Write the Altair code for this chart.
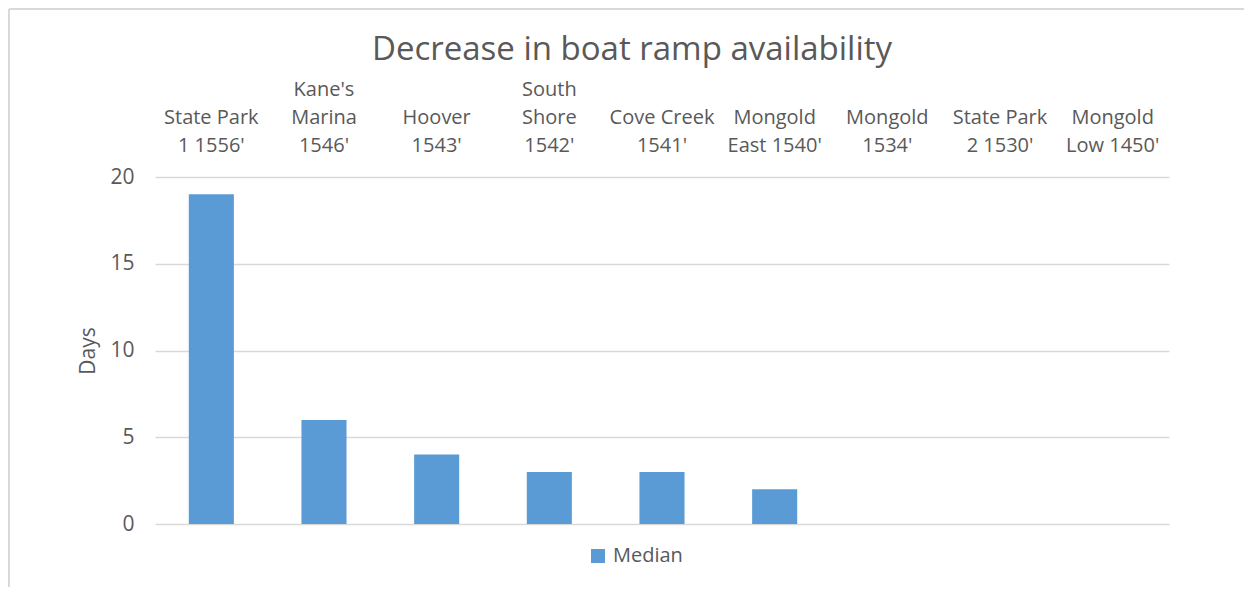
import altair as alt
import pandas as pd

categories = [
    "State Park\n1 1556'",
    "Kane's\nMarina\n1546'",
    "Hoover\n1543'",
    "South\nShore\n1542'",
    "Cove Creek\n1541'",
    "Mongold\nEast 1540'",
    "Mongold\n1534'",
    "State Park\n2 1530'",
    "Mongold\nLow 1450'",
]
median_days = [19, 6, 4, 3, 3, 2, 0, 0, 0]
series_name = "Median"
y_ticks = [0, 5, 10, 15, 20]

df = pd.DataFrame({"ramp": categories, "days": median_days, "series": series_name})

FONT = "Open Sans"
GREY = "#595959"

# pad two-line labels with an empty first line so all labels end on the same line
label_expr = (
    "split(indexof(datum.label, '\\n') == lastindexof(datum.label, '\\n') "
    "? '\\n' + datum.label : datum.label, '\\n')"
)

bars = (
    alt.Chart(df)
    .mark_bar()
    .encode(
        x=alt.X(
            "ramp:N",
            sort=None,
            scale=alt.Scale(paddingInner=0.6, paddingOuter=0.3),
            axis=alt.Axis(
                orient="top",
                title=None,
                labelAngle=0,
                domain=False,
                ticks=False,
                grid=False,
                labelExpr=label_expr,
                labelLineHeight=28,
                labelBaseline="bottom",
                labelPadding=78,
                labelFontSize=20,
                labelFont=FONT,
                labelColor=GREY,
                labelOverlap=False,
                labelLimit=300,
            ),
        ),
        y=alt.Y(
            "days:Q",
            scale=alt.Scale(domain=[0, 20], nice=False),
            axis=alt.Axis(
                values=y_ticks,
                title="Days",
                grid=True,
                gridColor="#d9d9d9",
                gridWidth=1.3,
                domain=False,
                ticks=False,
                labelPadding=21,
                labelFontSize=21,
                labelFont=FONT,
                labelColor=GREY,
                titleFontSize=21,
                titleFont=FONT,
                titleFontWeight="normal",
                titleColor=GREY,
                titlePadding=11,
            ),
        ),
        color=alt.Color(
            "series:N",
            scale=alt.Scale(range=["#5b9bd5"]),
            legend=alt.Legend(
                orient="none",
                legendX=433,
                legendY=369,
                title=None,
                symbolType="square",
                symbolSize=196,
                symbolStrokeWidth=0,
                labelFontSize=20,
                labelFont=FONT,
                labelColor=GREY,
                labelOffset=5,
            ),
        ),
    )
)

# light chart-area frame lines (decoration only): top edge and left edge
frame_data = pd.DataFrame({"frame": [0]})
frame_top = (
    alt.Chart(frame_data)
    .mark_rule(stroke="#d9d9d9", strokeWidth=2)
    .encode(x=alt.value(-146), x2=alt.value(1089), y=alt.value(-168))
)
frame_left = (
    alt.Chart(frame_data)
    .mark_rule(stroke="#d9d9d9", strokeWidth=2)
    .encode(x=alt.value(-146), y=alt.value(-168), y2=alt.value(410))
)

chart = (
    alt.layer(frame_top, frame_left, bars)
    .properties(
        width=1014,
        height=347,
        autosize=alt.AutoSizeParams(type="none"),
        padding={"left": 147, "top": 169, "right": 76, "bottom": 64},
        title=alt.Title(
            "Decrease in boat ramp availability",
            fontSize=33,
            font=FONT,
            fontWeight="normal",
            color=GREY,
            anchor="middle",
            dx=-30,
            dy=59,
            offset=0,
        ),
    )
    .configure_view(stroke=None)
)

chart.save("out.html", embed_options={"renderer": "svg", "actions": False})
